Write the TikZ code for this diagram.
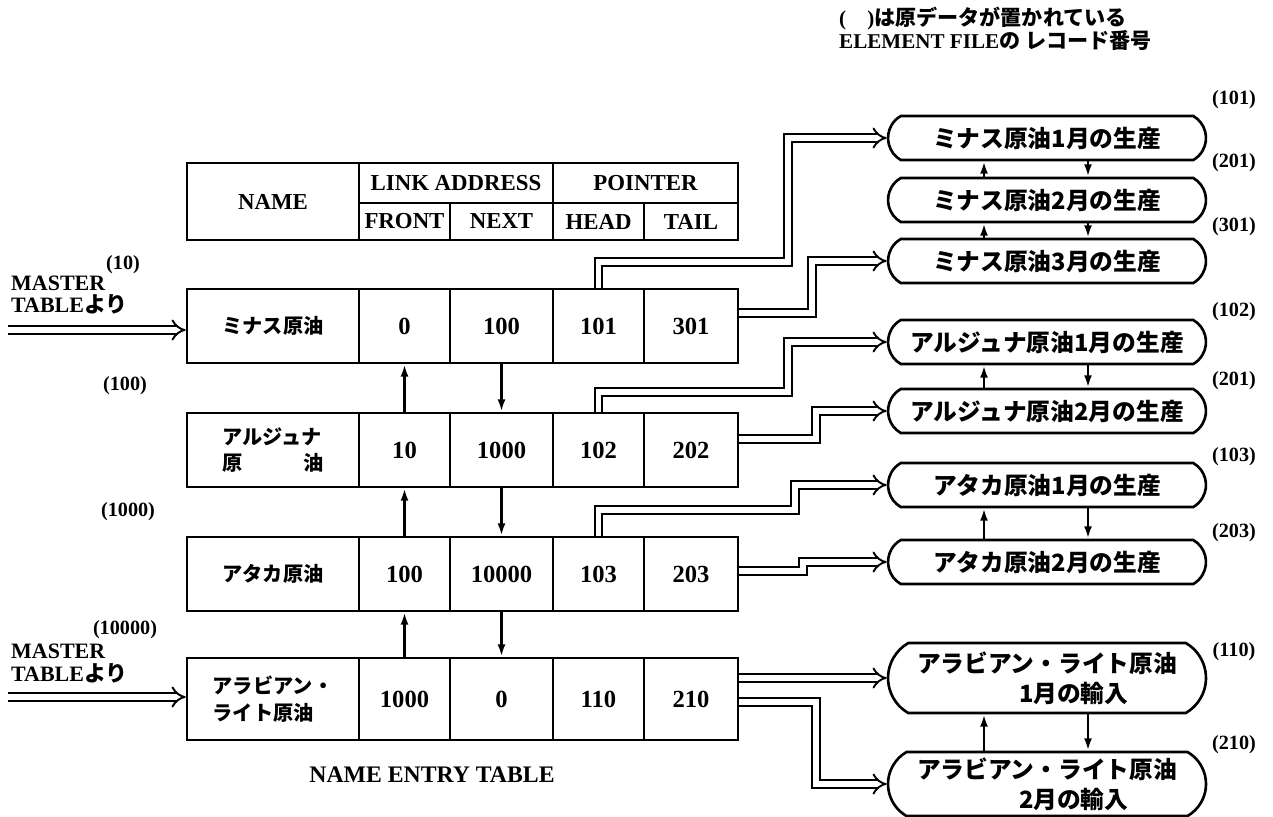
\documentclass[tikz,border=0pt]{standalone}
\usepackage{fontspec}
\setmainfont{Liberation Serif}
\newfontfamily\jp{Noto Sans CJK JP}
\usetikzlibrary{arrows.meta,shapes.misc}

\tikzset{
	cell/.style={shape=rectangle, draw, line width=1.5pt, inner sep=0pt, minimum height=1.48cm, font=\fontsize{14}{15}\selectfont\bfseries},
	namecol/.style={cell, minimum width=3.44cm, font=\fontsize{11.5}{15}\selectfont\jp\bfseries, align=left},
	frontcol/.style={cell, minimum width=1.82cm},
	nextcol/.style={cell, minimum width=2.06cm},
	headcol/.style={cell, minimum width=1.82cm},
	tailcol/.style={cell, minimum width=1.88cm},
	hdr/.style={shape=rectangle, draw, line width=1.5pt, inner sep=0pt, font=\fontsize{13}{14}\selectfont\bfseries},
	rbox/.style={rounded rectangle, rounded rectangle arc length=120, draw, line width=1.5pt, inner sep=0pt, minimum width=6.36cm, minimum height=0.88cm, align=left, font=\fontsize{13.5}{17}\selectfont\jp\bfseries},
	addr/.style={font=\fontsize{11.5}{13}\selectfont\bfseries},
	master/.style={anchor=west, font=\fontsize{12.5}{13}\selectfont\bfseries},
	dbl/.style={double, line width=1.1pt, double distance=3pt, -{Implies}},
	link/.style={line width=1.5pt, -{Latex[length=7pt, width=4.5pt]}}
}

\begin{document}
\begin{tikzpicture}[x=0.02cm, y=-0.02cm]
	\useasboundingbox (0,0) rectangle (1273,817);
	% Header of the name entry table:
	\node[hdr, minimum width=3.44cm, minimum height=1.54cm] (hname) at (273,201.5){NAME};
	\node[hdr, minimum width=3.88cm, minimum height=0.8cm] (hlink) at (456,183){LINK ADDRESS};
	\node[hdr, minimum width=3.70cm, minimum height=0.8cm] (hptr) at (645.5,183){POINTER};
	\node[hdr, minimum width=1.82cm, minimum height=0.74cm] (hfront) at (404.5,221.5){FRONT};
	\node[hdr, minimum width=2.06cm, minimum height=0.74cm] (hnext) at (501.5,221.5){NEXT};
	\node[hdr, minimum width=1.82cm, minimum height=0.74cm] (hhead) at (598.5,221.5){HEAD};
	\node[hdr, minimum width=1.88cm, minimum height=0.74cm] (htail) at (691,221.5){TAIL};

	% Rows:
	\node[namecol] (r1name) at (273,326){ミナス原油};
	\node[frontcol] (r1front) at (404.5,326){0};
	\node[nextcol] (r1next) at (501.5,326){100};
	\node[headcol] (r1head) at (598.5,326){101};
	\node[tailcol] (r1tail) at (691,326){301};

	\node[namecol] (r2name) at (273,450){アルジュナ\\\makebox[5em][s]{原\hfill 油}};
	\node[frontcol] (r2front) at (404.5,450){10};
	\node[nextcol] (r2next) at (501.5,450){1000};
	\node[headcol] (r2head) at (598.5,450){102};
	\node[tailcol] (r2tail) at (691,450){202};

	\node[namecol] (r3name) at (273,574){アタカ原油};
	\node[frontcol] (r3front) at (404.5,574){100};
	\node[nextcol] (r3next) at (501.5,574){10000};
	\node[headcol] (r3head) at (598.5,574){103};
	\node[tailcol] (r3tail) at (691,574){203};

	\node[namecol, minimum height=1.64cm] (r4name) at (273,699){アラビアン・\\ライト原油};
	\node[frontcol, minimum height=1.64cm] (r4front) at (404.5,699){1000};
	\node[nextcol, minimum height=1.64cm] (r4next) at (501.5,699){0};
	\node[headcol, minimum height=1.64cm] (r4head) at (598.5,699){110};
	\node[tailcol, minimum height=1.64cm] (r4tail) at (691,699){210};

	\node[font=\fontsize{13.5}{15}\selectfont\bfseries] (title) at (432,775){NAME ENTRY TABLE};

	% Record numbers of the rows:
	\node[addr] (n10) at (123,265){(10)};
	\node[addr] (n100) at (125,386){(100)};
	\node[addr] (n1000) at (128,512){(1000)};
	\node[addr] (n10000) at (125,630){(10000)};
	\node[master] (mst1) at (5,283){MASTER};
	\node[master] (tbl1) at (5,304){TABLE{\jp より}};
	\node[master] (mst2) at (5,651){MASTER};
	\node[master] (tbl2) at (5,673){TABLE{\jp より}};
	\coordinate (src1) at (8,330);
	\coordinate (src2) at (8,697);
	\draw[dbl] (src1) -- (src1 -| r1name.west);
	\draw[dbl] (src2) -- (src2 -| r4name.west);

	% FRONT and NEXT links:
	\draw[link] (r2front.north) -- (r1front.south);
	\draw[link] (r3front.north) -- (r2front.south);
	\draw[link] (r4front.north) -- (r3front.south);
	\draw[link] (r1next.south) -- (r2next.north);
	\draw[link] (r2next.south) -- (r3next.north);
	\draw[link] (r3next.south) -- (r4next.north);

	% Element file records:
	\node[font=\fontsize{12}{13}\selectfont\bfseries, anchor=west] (note1) at (833,18){(\quad){\jp は原データが置かれている}};
	\node[font=\fontsize{12}{13}\selectfont\bfseries, anchor=west] (note2) at (833,41){ELEMENT FILE{\jp の\ レコード番号}};

	\node[rbox] (m1) at (1047,138){ミナス原油1月の生産};
	\node[rbox] (m2) at (1047,200){ミナス原油2月の生産};
	\node[rbox] (m3) at (1047,261){ミナス原油3月の生産};
	\node[rbox] (a1) at (1047,342){アルジュナ原油1月の生産};
	\node[rbox] (a2) at (1047,411){アルジュナ原油2月の生産};
	\node[rbox] (t1) at (1047,485){アタカ原油1月の生産};
	\node[rbox] (t2) at (1047,562){アタカ原油2月の生産};
	\node[rbox, minimum height=1.4cm] (b1) at (1047,678){アラビアン・ライト原油\\\hspace*{4.3em}1月の輸入};
	\node[rbox, minimum height=1.28cm] (b2) at (1047,784){アラビアン・ライト原油\\\hspace*{4.3em}2月の輸入};

	\node[addr] (l101) at (1234,100){(101)};
	\node[addr] (l201) at (1234,163){(201)};
	\node[addr] (l301) at (1234,227){(301)};
	\node[addr] (l102) at (1234,312){(102)};
	\node[addr] (l201b) at (1234,381){(201)};
	\node[addr] (l103) at (1234,457){(103)};
	\node[addr] (l203) at (1234,533){(203)};
	\node[addr] (l110) at (1234,652){(110)};
	\node[addr] (l210) at (1234,745){(210)};

	% Links between records:
	\draw[link] (m2.north -| 984,0) -- (m1.south -| 984,0);
	\draw[link] (m1.south -| 1088,0) -- (m2.north -| 1088,0);
	\draw[link] (m3.north -| 984,0) -- (m2.south -| 984,0);
	\draw[link] (m2.south -| 1088,0) -- (m3.north -| 1088,0);
	\draw[link] (a2.north -| 984,0) -- (a1.south -| 984,0);
	\draw[link] (a1.south -| 1088,0) -- (a2.north -| 1088,0);
	\draw[link] (t2.north -| 984,0) -- (t1.south -| 984,0);
	\draw[link] (t1.south -| 1088,0) -- (t2.north -| 1088,0);
	\draw[link] (b2.north -| 984,0) -- (b1.south -| 984,0);
	\draw[link] (b1.south -| 1088,0) -- (b2.north -| 1088,0);

	% Pointers to the records:
	\draw[dbl] (r1head.north) |- (788,262) |- (m1.west);
	\draw[dbl] (r1tail.east |- 0,313) -- (812,313) |- (m3.west);
	\draw[dbl] (r2head.north) |- (788,392) |- (a1.west);
	\draw[dbl] (r2tail.east |- 0,439) -- (816,439) |- (a2.west);
	\draw[dbl] (r3head.north) |- (795,510) |- (t1.west);
	\draw[dbl] (r3tail.east |- 0,571) -- (803,571) |- (t2.west);
	\draw[dbl] (r4tail.east |- 0,678) -- (b1.west);
	\draw[dbl] (r4tail.east |- 0,702) -- (816,702) |- (b2.west);
\end{tikzpicture}
\end{document}
